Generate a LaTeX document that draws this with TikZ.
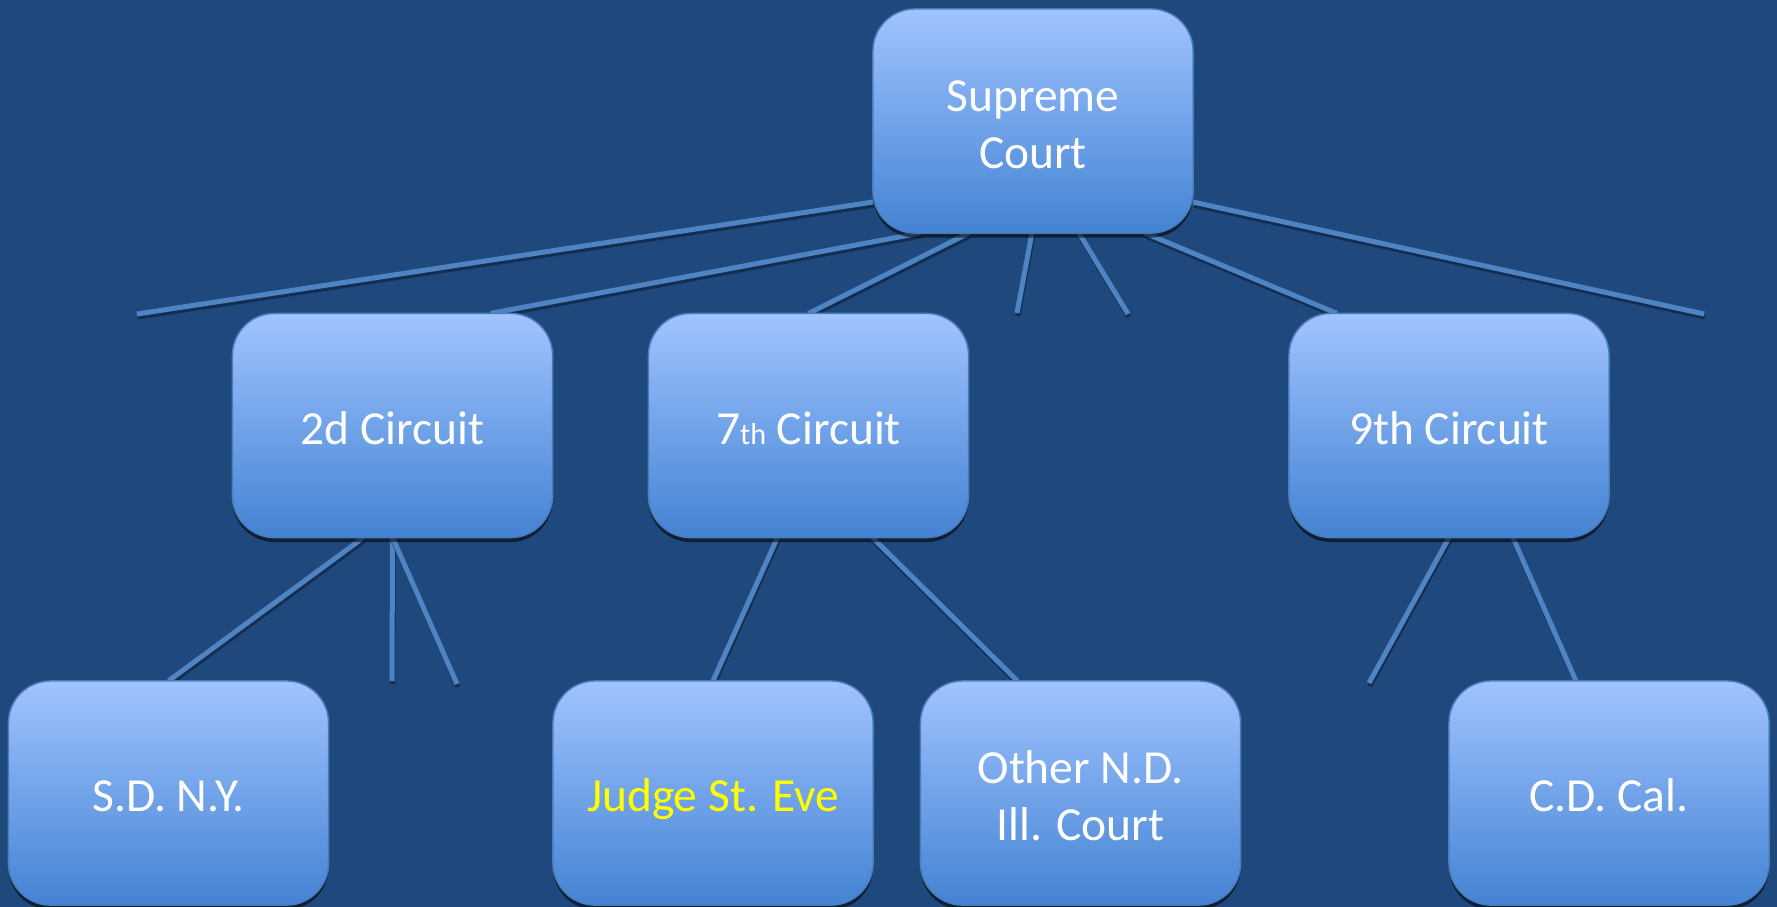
\documentclass[tikz,border=0pt]{standalone}
\usepackage{fontspec}
\setmainfont{Carlito}
\usetikzlibrary{calc,shadows}

\definecolor{slide}{HTML}{1F497D}
\definecolor{boxtop}{HTML}{A0C4FF}
\definecolor{boxbot}{HTML}{4483D3}
\definecolor{boxedge}{HTML}{4A7EBB}
\definecolor{linkblue}{HTML}{4F84C4}
\definecolor{linkshade}{HTML}{132E50}
\definecolor{hilite}{HTML}{FFFF00}

\pgfdeclarelayer{bg}
\pgfdeclarelayer{links}
\pgfsetlayers{bg,links,main}

% fixed line metrics so every label sits at the same height in its box
\newcommand\lbl[1]{\rule{0pt}{14.04pt}#1\rule[-3.4pt]{0pt}{3.4pt}}

\tikzset{
  court/.style={
    draw=boxedge, line width=0.015cm, rounded corners=0.42cm,
    top color=boxtop, bottom color=boxbot,
    minimum width=3.2cm, minimum height=2.24cm, outer sep=0pt, inner sep=0pt,
    align=center, text=white, font=\fontsize{13.5}{16.1}\selectfont,
    drop shadow={shadow xshift=0cm, shadow yshift=-0.045cm, opacity=0.55, fill=black}
  },
  link/.style={
    line width=0.05cm, draw=linkblue,
    preaction={draw=linkshade, line width=0.05cm, transform canvas={shift={(0.008cm,-0.03cm)}}}
  }
}

\begin{document}
\begin{tikzpicture}[x=0.01cm, y=-0.01cm]
  \useasboundingbox (0,0) rectangle (1777,907);
  \begin{pgfonlayer}{bg}
    \fill[slide] (0,0) rectangle (1777,907);
  \end{pgfonlayer}

  % court boxes
  \node[court] (sc)    at (1033,121)   {\lbl{Supreme\\Court}};
  \node[court] (c2)    at (392.5,425.5) {\lbl{2d Circuit}};
  \node[court] (c7)    at (808.5,425.5) {\lbl{7{\fontsize{8.6}{10}\selectfont th} Circuit}};
  \node[court] (c9)    at (1449,425.5)  {\lbl{9th Circuit}};
  \node[court] (sdny)  at (168.5,793)   {\lbl{S.D. N.Y.}};
  \node[court] (eve)   at (713,793)     {\lbl{\textcolor{hilite}{Judge St. Eve}}};
  \node[court] (ndill) at (1080.5,793)  {\lbl{Other N.D.\\Ill. Court}};
  \node[court] (cdcal) at (1609,793)    {\lbl{C.D. Cal.}};

  % loose ends of the branches
  \coordinate (e1) at (137,314);
  \coordinate (e4) at (1017,313);
  \coordinate (e5) at (1128,314);
  \coordinate (e7) at (1704,314);
  \coordinate (f1) at (392,681);
  \coordinate (f2) at (457,684);
  \coordinate (g1) at (1369,683);

  \begin{pgfonlayer}{links}
    % from the Supreme Court
    \draw[link] ($(sc.south west)+(0,-31)$) -- (e1);
    \draw[link] ($(sc.south west)+(47,0)$) -- ($(c2.north west)+(258,0)$);
    \draw[link] ($(sc.south west)+(96,0)$) -- (c7.north);
    \draw[link] ($(sc.south west)+(159,0)$) -- (e4);
    \draw[link] ($(sc.south west)+(206,0)$) -- (e5);
    \draw[link] ($(sc.south west)+(272,0)$) -- ($(c9.north west)+(48,0)$);
    \draw[link] ($(sc.south east)+(0,-31)$) -- (e7);
    % from the 2d Circuit
    \draw[link] ($(c2.south west)+(131,0)$) -- (sdny.north);
    \draw[link] (c2.south) -- (f1);
    \draw[link] (c2.south) -- (f2);
    % from the 7th Circuit
    \draw[link] ($(c7.south west)+(129,0)$) -- (eve.north);
    \draw[link] ($(c7.south west)+(224,0)$) -- ($(ndill.north west)+(97,0)$);
    % from the 9th Circuit
    \draw[link] (c9.south) -- (g1);
    \draw[link] ($(c9.south west)+(224,0)$) -- ($(cdcal.north west)+(127,0)$);
  \end{pgfonlayer}
\end{tikzpicture}
\end{document}
